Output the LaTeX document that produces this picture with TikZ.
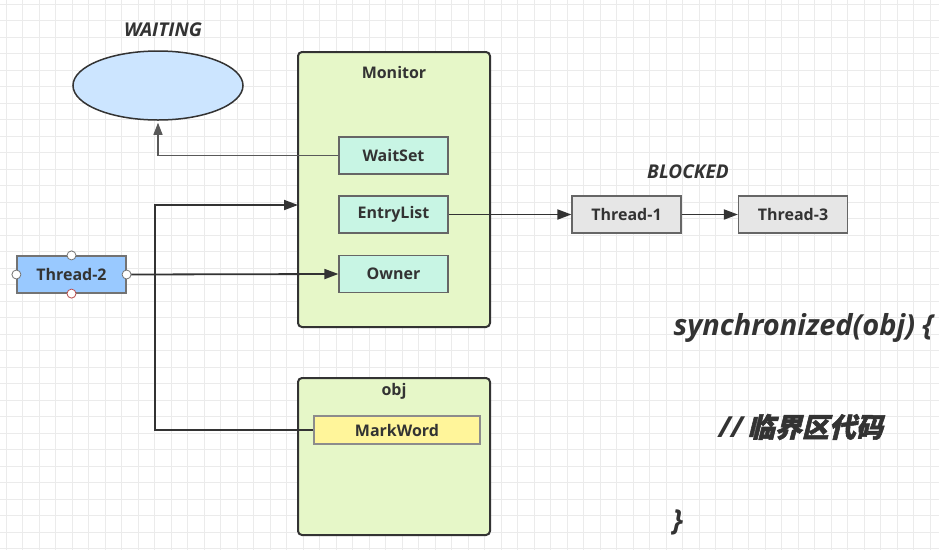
\documentclass[tikz,border=0pt]{standalone}
\usepackage{fontspec}
\setmainfont{Open Sans}
\newfontfamily\cjk[FakeSlant=0.25,FakeBold=2]{Noto Sans CJK SC}
\usetikzlibrary{arrows.meta,shapes.geometric,calc}
\definecolor{txt}{HTML}{333333}
\definecolor{edge}{HTML}{333333}
\definecolor{gridc}{HTML}{EBEBEB}
\definecolor{waitfill}{HTML}{CCE5FF}
\definecolor{monfill}{HTML}{E6F7C8}
\definecolor{mint}{HTML}{C8F5E4}
\definecolor{t2fill}{HTML}{99C9FF}
\definecolor{grayfill}{HTML}{E6E6E6}
\definecolor{yel}{HTML}{FFF59A}
\tikzset{
  box/.style={draw=black!60, line width=1.2pt, minimum width=109pt, minimum height=37pt, inner sep=0pt, text=txt, font=\fontsize{16}{18}\selectfont\bfseries},
  container/.style={draw=edge, line width=2pt, rounded corners=4pt, fill=monfill, inner sep=0pt},
  title/.style={text=txt, font=\fontsize{16}{18}\selectfont\bfseries},
  state/.style={text=txt, font=\fontsize{19}{22}\selectfont\bfseries\itshape},
  code/.style={text=txt, font=\fontsize{29}{32}\selectfont\bfseries\itshape},
  arr/.style={draw=edge, line width=1.8pt, -{Triangle[length=14pt,width=10pt]}},
  thinarr/.style={draw=black!65, line width=1.1pt, -{Triangle[length=12pt,width=9pt]}},
  handle/.style={draw=black!55, fill=white, line width=0.8pt},
}
\begin{document}
\begin{tikzpicture}[x=1pt,y=-1pt]
\useasboundingbox (0,0) rectangle (939,550);
\fill[white] (0,0) rectangle (939,550);
\foreach \i in {0,...,57} \draw[gridc, line width=0.7pt] (6+16.5*\i,0) -- ++(0,550);
\foreach \j in {0,...,33} \draw[gridc, line width=0.7pt] (0,4+16.5*\j) -- ++(939,0);

% waiting
\node[state] (waitlbl) at (163,30) {WAITING};
\node[ellipse, draw=edge, line width=1.5pt, fill=waitfill, minimum width=170pt, minimum height=69pt] (wait) at (158,85.5) {};

% monitor
\node[container, minimum width=192pt, minimum height=275pt] (mon) at (394,189.5) {};
\node[title] (montitle) at (394,72) {Monitor};
\node[box, fill=mint] (ws) at (393.5,155.5) {WaitSet};
\node[box, fill=mint] (el) at (393.5,214.5) {EntryList};
\node[box, fill=mint] (ow) at (393.5,274) {Owner};

% blocked
\node[state] (blk) at (688,172) {BLOCKED};
\node[box, fill=grayfill] (t1) at (626.5,214.5) {Thread-1};
\node[box, fill=grayfill] (t3) at (793,214.5) {Thread-3};

% thread-2
\node[box, fill=t2fill, draw=black!55] (t2) at (71.5,274.5) {Thread-2};

% obj
\node[container, minimum width=192pt, minimum height=157pt] (obj) at (394,456.5) {};
\node[title] (objtitle) at (394,391) {obj};
\node[box, fill=yel, draw=black!45, minimum width=166pt, minimum height=28pt] (mw) at (397,430) {MarkWord};

% code text
\node[code, anchor=west] (c1) at (670,328) {synchronized(obj) \{};
\node[code, anchor=west] (c2) at (715,427) {//\,{\cjk\fontsize{27}{30}\selectfont 临界区代码}};
\node[code, anchor=west] (c3) at (669,522) {\}};

% connectors
\coordinate (bend) at (155,205);
\coordinate (monin) at (298,205);
\draw[thinarr, shorten >=2pt] (ws.west) -| (wait.south);
\draw[arr] (t2.east) -- (ow.west);
\draw[arr] (mw.west) -| (bend) -- (monin);
\draw[arr] (el.east) -- (t1.west);
\draw[arr] (t1.east) -- (t3.west);

% selection handles on Thread-2
\draw[handle] (t2.west) circle (4.5pt);
\draw[handle] (t2.east) circle (4.5pt);
\draw[handle] (t2.north) circle (4.5pt);
\draw[handle, draw=red!60!black!70] (t2.south) circle (4.5pt);
\end{tikzpicture}
\end{document}
